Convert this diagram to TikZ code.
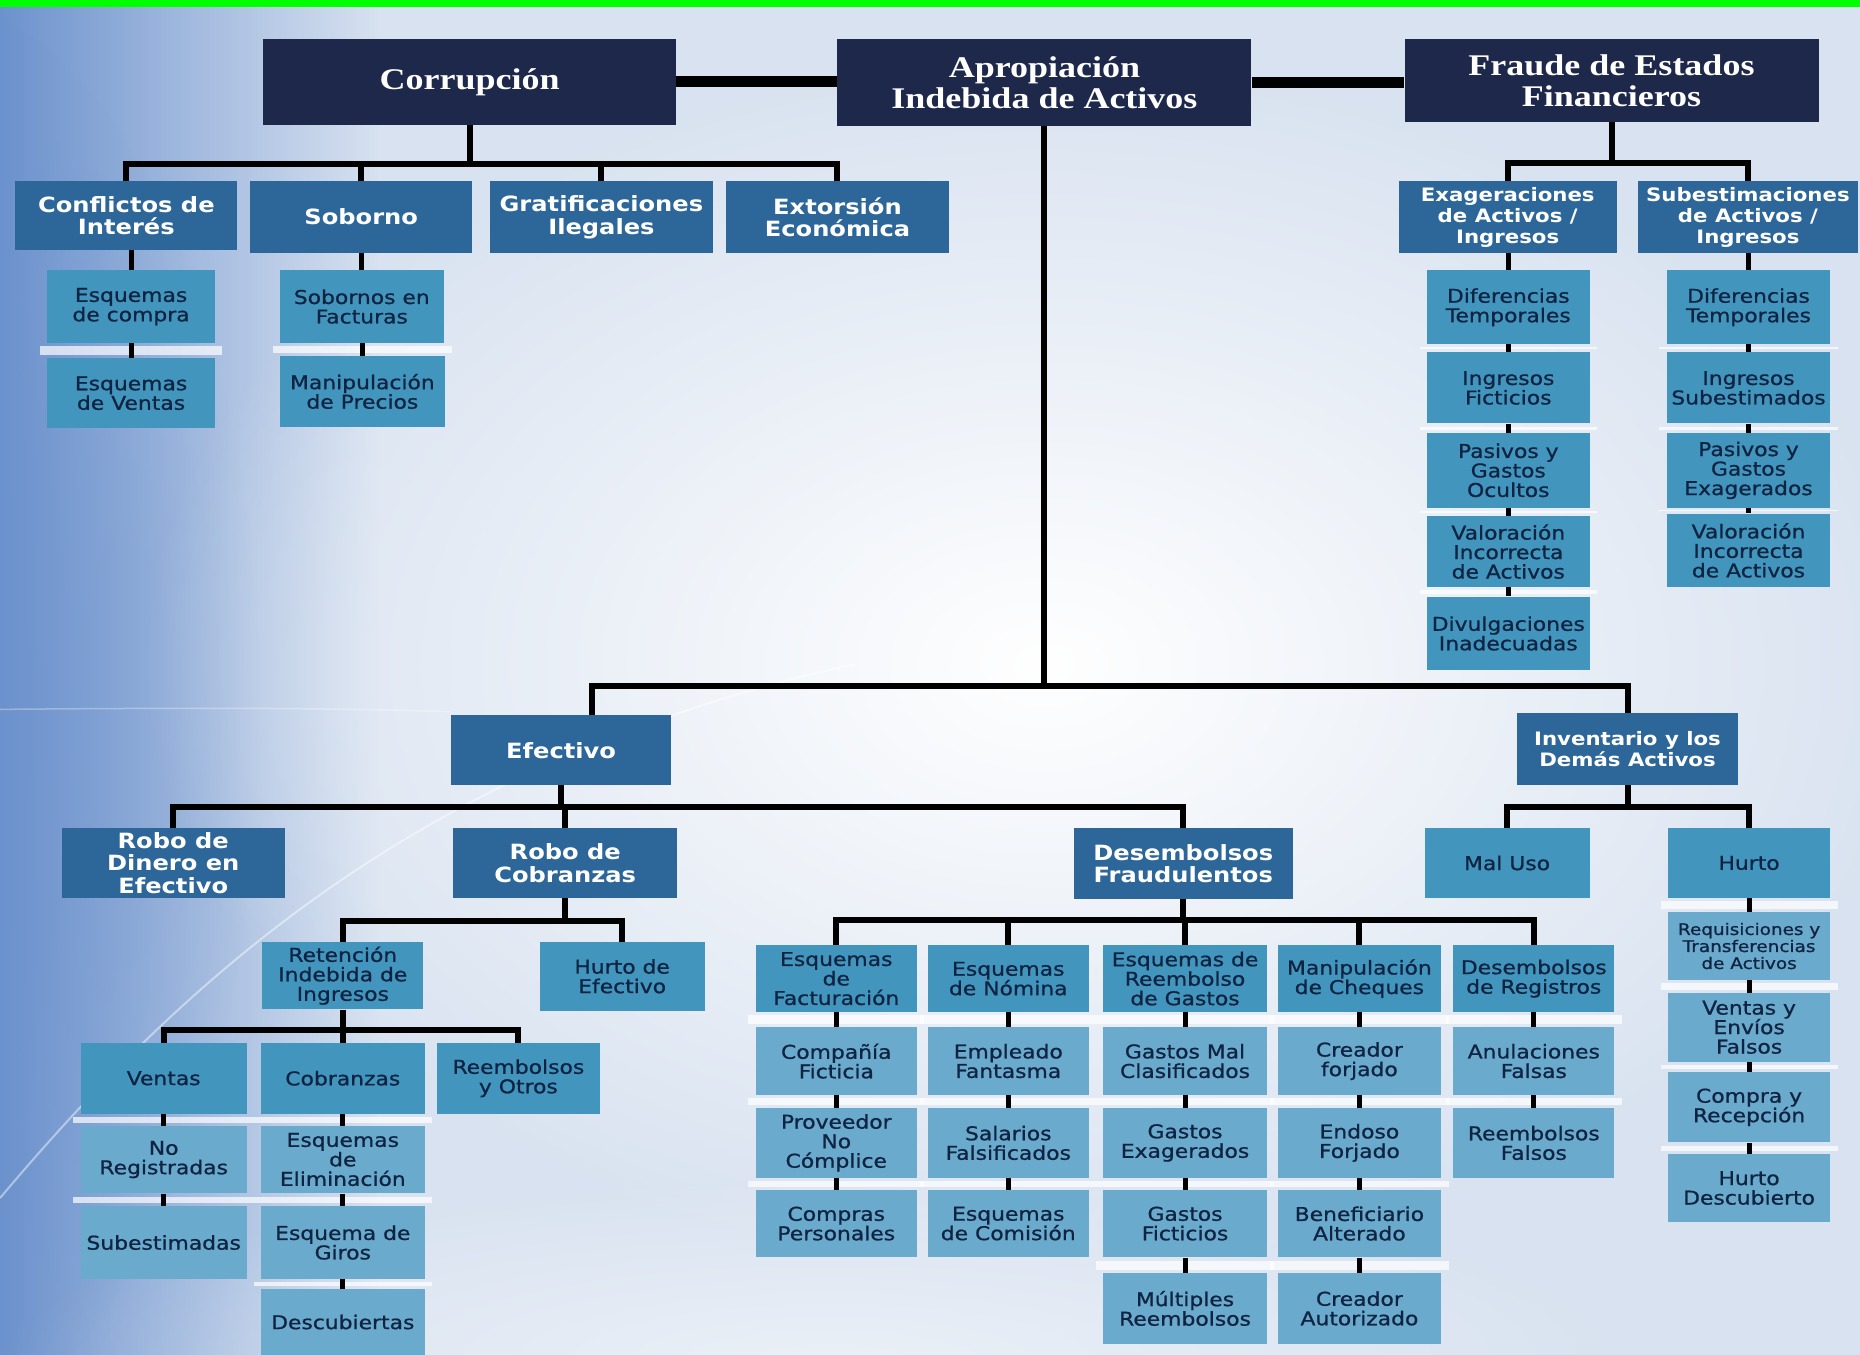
\documentclass[tikz,border=0pt]{standalone}
\usepackage{fontspec}
\usetikzlibrary{calc,fadings}

\newfontfamily\topfam{Liberation Serif}[FakeStretch=1.2]
\newfontfamily\sansfam{DejaVu Sans}[FakeStretch=1.15]
\newfontfamily\lowfam{DejaVu Sans}[FakeStretch=1.15, FakeBold=0.9]

\newcommand\fntA{\topfam\bfseries\fontsize{30}{31}\selectfont}
\newcommand\fntB{\sansfam\bfseries\fontsize{21}{22.5}\selectfont}
\newcommand\fntBs{\sansfam\bfseries\fontsize{18.5}{21}\selectfont}
\newcommand\fntC{\lowfam\fontsize{19}{19.5}\selectfont}
\newcommand\fntCs{\lowfam\fontsize{16}{17}\selectfont}

\definecolor{navybox}{RGB}{29,40,74}
\definecolor{midbox}{RGB}{45,102,153}
\definecolor{tealfill}{RGB}{66,150,190}
\definecolor{lightfill}{RGB}{106,170,204}
\definecolor{boxink}{RGB}{16,36,66}
\definecolor{bgbase}{RGB}{216,226,240}
\definecolor{bgblue}{RGB}{108,146,205}
\definecolor{bargreen}{RGB}{0,255,0}

\tikzfading[name=softglow, inner color=transparent!0, outer color=transparent!100]
\tikzfading[name=fadeoutright, left color=transparent!0, right color=transparent!100]

% stacked boxes: white separator strip plus a short black stub
\newcommand\stackjoin[2]{%
  \fill[strip] ($(#1.south west)+(-6,2.5)$) rectangle ($(#2.north east)+(6,-2.5)$);
  \draw[stub] (#2.north |- #1.south) -- (#2.north);}
\newcommand\headjoin[2]{\draw[stub] (#2.north |- #1.south) -- (#2.north);}

\begin{document}
\begin{tikzpicture}[x=1.1862pt, y=-1.1862pt,
  spanning/.code n args={4}{%
    \pgfmathsetmacro\bxw{(#3-#1)*1.1862}%
    \pgfmathsetmacro\bxh{(#4-#2)*1.1862}%
    \pgfmathsetmacro\bxx{(#1+#3)/2}%
    \pgfmathsetmacro\bxy{(#2+#4)/2}%
    \edef\bxset{\noexpand\tikzset{minimum width=\bxw pt, minimum height=\bxh pt, at={(\bxx,\bxy)}}}%
    \bxset},
  boxA/.style={fill=navybox, text=white, inner sep=0pt, align=center, font=\fntA},
  boxB/.style={fill=midbox, text=white, inner sep=0pt, align=center, font=\fntB},
  boxC/.style={fill=tealfill, text=boxink, inner sep=0pt, align=center, font=\fntC},
  boxD/.style={boxC, fill=lightfill},
  link/.style={draw=black, line width=6pt, line join=miter},
  heavy/.style={draw=black, line width=11pt},
  stub/.style={draw=black, line width=5pt},
  strip/.style={fill=white, opacity=0.7}]

\useasboundingbox (0,0) rectangle (1568,1142);

% background
\fill[bgbase] (0,0) rectangle (1568,1142);
\fill[bgblue, path fading=fadeoutright] (0,0) rectangle (320,1142);
\fill[bgblue, path fading=softglow, opacity=0.55] (-60,600) ellipse (280 and 600);
\fill[white, path fading=softglow] (880,560) ellipse (760 and 520);
\fill[white, path fading=softglow, opacity=0.5] (700,1150) ellipse (700 and 160);
\draw[white, opacity=0.45, line width=2pt] (0,1010) .. controls (160,820) and (360,640) .. (720,560);
\draw[white, opacity=0.3, line width=1.5pt] (0,598) .. controls (120,597) and (260,596) .. (380,600);
\fill[bargreen] (0,0) rectangle (1568,6);

% top level
\node[boxA, spanning={222}{33}{570}{105}] (corr) {Corrupción};
\node[boxA, spanning={706}{33}{1055}{106}] (apro) {Apropiación\\Indebida de Activos};
\node[boxA, spanning={1184}{33}{1533}{103}] (fraude) {Fraude de Estados\\Financieros};

% corruption branch
\node[boxB, spanning={13}{153}{200}{211}] (conf) {Conflictos de\\Interés};
\node[boxB, spanning={211}{153}{398}{213}] (sob) {Soborno};
\node[boxB, spanning={413}{153}{601}{213}] (grat) {Gratificaciones\\Ilegales};
\node[boxB, spanning={612}{153}{800}{213}] (extor) {Extorsión\\Económica};
\node[boxC, spanning={40}{228}{181}{289}] (ecomp) {Esquemas\\de compra};
\node[boxC, spanning={40}{302}{181}{361}] (event) {Esquemas\\de Ventas};
\node[boxC, spanning={236}{228}{374}{289}] (sfact) {Sobornos en\\Facturas};
\node[boxC, spanning={236}{300}{375}{360}] (mprec) {Manipulación\\de Precios};

% financial statement branch
\node[boxB, font=\fntBs, spanning={1179}{153}{1363}{213}] (exag) {Exageraciones\\de Activos /\\Ingresos};
\node[boxB, font=\fntBs, spanning={1381}{153}{1566}{213}] (subes) {Subestimaciones\\de Activos /\\Ingresos};
\node[boxC, spanning={1203}{228}{1340}{290}] (difa) {Diferencias\\Temporales};
\node[boxC, spanning={1203}{297}{1340}{357}] (ingf) {Ingresos\\Ficticios};
\node[boxC, spanning={1203}{365}{1340}{428}] (pasa) {Pasivos y\\Gastos\\Ocultos};
\node[boxC, spanning={1203}{435}{1340}{495}] (vala) {Valoración\\Incorrecta\\de Activos};
\node[boxC, spanning={1203}{503}{1340}{565}] (divu) {Divulgaciones\\Inadecuadas};
\node[boxC, spanning={1405}{228}{1543}{290}] (difb) {Diferencias\\Temporales};
\node[boxC, spanning={1405}{297}{1543}{357}] (ingsub) {Ingresos\\Subestimados};
\node[boxC, spanning={1405}{365}{1543}{428}] (pasb) {Pasivos y\\Gastos\\Exagerados};
\node[boxC, spanning={1405}{433}{1543}{495}] (valb) {Valoración\\Incorrecta\\de Activos};

% asset misappropriation branch
\node[boxB, spanning={380}{603}{566}{662}] (efec) {Efectivo};
\node[boxB, font=\fntBs, spanning={1279}{601}{1465}{662}] (inv) {Inventario y los\\Demás Activos};
\node[boxB, spanning={52}{698}{240}{757}] (robdin) {Robo de\\Dinero en\\Efectivo};
\node[boxB, spanning={382}{698}{571}{757}] (robcob) {Robo de\\Cobranzas};
\node[boxB, spanning={905}{698}{1090}{758}] (desemb) {Desembolsos\\Fraudulentos};

\node[boxC, spanning={221}{794}{357}{851}] (retenc) {Retención\\Indebida de\\Ingresos};
\node[boxC, spanning={455}{794}{594}{852}] (hurtoef) {Hurto de\\Efectivo};
\node[boxC, spanning={68}{879}{208}{939}] (ventas) {Ventas};
\node[boxC, spanning={220}{879}{358}{939}] (cobr) {Cobranzas};
\node[boxC, spanning={368}{879}{506}{939}] (reemb) {Reembolsos\\y Otros};
\node[boxD, spanning={68}{949}{208}{1006}] (noreg) {No\\Registradas};
\node[boxD, spanning={68}{1017}{208}{1078}] (subest) {Subestimadas};
\node[boxD, spanning={220}{949}{358}{1006}] (eelim) {Esquemas\\de\\Eliminación};
\node[boxD, spanning={220}{1017}{358}{1078}] (egiros) {Esquema de\\Giros};
\node[boxD, spanning={220}{1087}{358}{1142}] (descub) {Descubiertas};

% fraudulent disbursements
\node[boxC, spanning={637}{797}{773}{853}] (fact) {Esquemas\\de\\Facturación};
\node[boxD, spanning={637}{866}{773}{923}] (cfic) {Compañía\\Ficticia};
\node[boxD, spanning={637}{934}{773}{993}] (prov) {Proveedor\\No\\Cómplice};
\node[boxD, spanning={637}{1003}{773}{1060}] (cpers) {Compras\\Personales};
\node[boxC, spanning={782}{797}{918}{853}] (nom) {Esquemas\\de Nómina};
\node[boxD, spanning={782}{866}{918}{923}] (empf) {Empleado\\Fantasma};
\node[boxD, spanning={782}{934}{918}{993}] (salf) {Salarios\\Falsificados};
\node[boxD, spanning={782}{1003}{918}{1060}] (ecom) {Esquemas\\de Comisión};
\node[boxC, spanning={930}{797}{1068}{853}] (reem) {Esquemas de\\Reembolso\\de Gastos};
\node[boxD, spanning={930}{866}{1068}{923}] (gmal) {Gastos Mal\\Clasificados};
\node[boxD, spanning={930}{934}{1068}{993}] (gexa) {Gastos\\Exagerados};
\node[boxD, spanning={930}{1003}{1068}{1060}] (gfic) {Gastos\\Ficticios};
\node[boxD, spanning={930}{1073}{1068}{1133}] (mult) {Múltiples\\Reembolsos};
\node[boxC, spanning={1077}{797}{1215}{853}] (cheq) {Manipulación\\de Cheques};
\node[boxD, spanning={1077}{866}{1215}{923}] (cforj) {Creador\\forjado};
\node[boxD, spanning={1077}{934}{1215}{993}] (endo) {Endoso\\Forjado};
\node[boxD, spanning={1077}{1003}{1215}{1060}] (benef) {Beneficiario\\Alterado};
\node[boxD, spanning={1077}{1073}{1215}{1133}] (caut) {Creador\\Autorizado};
\node[boxC, spanning={1225}{797}{1361}{853}] (dreg) {Desembolsos\\de Registros};
\node[boxD, spanning={1225}{866}{1361}{923}] (anul) {Anulaciones\\Falsas};
\node[boxD, spanning={1225}{934}{1361}{993}] (rfals) {Reembolsos\\Falsos};

% inventory
\node[boxC, spanning={1201}{698}{1340}{757}] (maluso) {Mal Uso};
\node[boxC, spanning={1406}{698}{1543}{757}] (hurto) {Hurto};
\node[boxD, font=\fntCs, spanning={1406}{769}{1543}{826}] (req) {Requisiciones y\\Transferencias\\de Activos};
\node[boxD, spanning={1406}{837}{1543}{895}] (vef) {Ventas y\\Envíos\\Falsos};
\node[boxD, spanning={1406}{904}{1543}{963}] (cyr) {Compra y\\Recepción};
\node[boxD, spanning={1406}{973}{1543}{1030}] (hdesc) {Hurto\\Descubierto};

% links between the three categories
\draw[heavy] (corr.east) -- (corr.east -| apro.west);
\draw[heavy] (apro.east) -- (apro.east -| fraude.west);

% corruption tree
\coordinate (cbus) at ($(corr.south)+(0,33)$);
\draw[link] (corr.south) -- (cbus);
\draw[link] (conf.north) |- (cbus) -| (extor.north);
\draw[link] (sob.north) -- (sob.north |- cbus);
\draw[link] (grat.north) -- (grat.north |- cbus);
\headjoin{conf}{ecomp}
\stackjoin{ecomp}{event}
\headjoin{sob}{sfact}
\stackjoin{sfact}{mprec}

% financial statement tree
\coordinate (fbus) at ($(fraude.south)+(0,34)$);
\draw[link] (fraude.south) -- (fbus);
\draw[link] (exag.north) |- (fbus) -| (subes.north);
\headjoin{exag}{difa}
\stackjoin{difa}{ingf}
\stackjoin{ingf}{pasa}
\stackjoin{pasa}{vala}
\stackjoin{vala}{divu}
\headjoin{subes}{difb}
\stackjoin{difb}{ingsub}
\stackjoin{ingsub}{pasb}
\stackjoin{pasb}{valb}

% asset misappropriation trunk
\coordinate (abus) at ($(apro.south)+(0,472)$);
\coordinate (efin) at ($(efec.north)+(26,0)$);
\draw[link] (apro.south) -- (abus);
\draw[link] (efin) |- (abus) -| (inv.north);

% cash tree
\coordinate (ebus) at ($(efec.south)+(0,18)$);
\draw[link] (efec.south) -- (ebus);
\draw[link] (robdin.north) |- (ebus) -| (desemb.north);
\draw[link] (robcob.north) -- (robcob.north |- ebus);

\coordinate (rbus) at ($(robcob.south)+(0,19)$);
\draw[link] (robcob.south) -- (rbus);
\draw[link] (retenc.north) |- (rbus) -| (hurtoef.north);

\coordinate (tbus) at ($(retenc.south)+(0,17)$);
\draw[link] (retenc.south) -- (tbus);
\draw[link] (ventas.north) |- (tbus) -| (reemb.north);
\draw[link] (cobr.north) -- (cobr.north |- tbus);
\stackjoin{ventas}{noreg}
\stackjoin{noreg}{subest}
\stackjoin{cobr}{eelim}
\stackjoin{eelim}{egiros}
\stackjoin{egiros}{descub}

% disbursement tree
\coordinate (dbus) at ($(desemb.south)+(0,17)$);
\draw[link] (desemb.south) -- (dbus);
\draw[link] (fact.north) |- (dbus) -| (dreg.north);
\draw[link] (nom.north) -- (nom.north |- dbus);
\draw[link] (reem.north) -- (reem.north |- dbus);
\draw[link] (cheq.north) -- (cheq.north |- dbus);
\stackjoin{fact}{cfic}
\stackjoin{cfic}{prov}
\stackjoin{prov}{cpers}
\stackjoin{nom}{empf}
\stackjoin{empf}{salf}
\stackjoin{salf}{ecom}
\stackjoin{reem}{gmal}
\stackjoin{gmal}{gexa}
\stackjoin{gexa}{gfic}
\stackjoin{gfic}{mult}
\stackjoin{cheq}{cforj}
\stackjoin{cforj}{endo}
\stackjoin{endo}{benef}
\stackjoin{benef}{caut}
\stackjoin{dreg}{anul}
\stackjoin{anul}{rfals}

% inventory tree
\coordinate (ibus) at ($(inv.south)+(0,18)$);
\draw[link] (inv.south) -- (ibus);
\draw[link] (maluso.north) |- (ibus) -| (hurto.north);
\stackjoin{hurto}{req}
\stackjoin{req}{vef}
\stackjoin{vef}{cyr}
\stackjoin{cyr}{hdesc}

\end{tikzpicture}
\end{document}
